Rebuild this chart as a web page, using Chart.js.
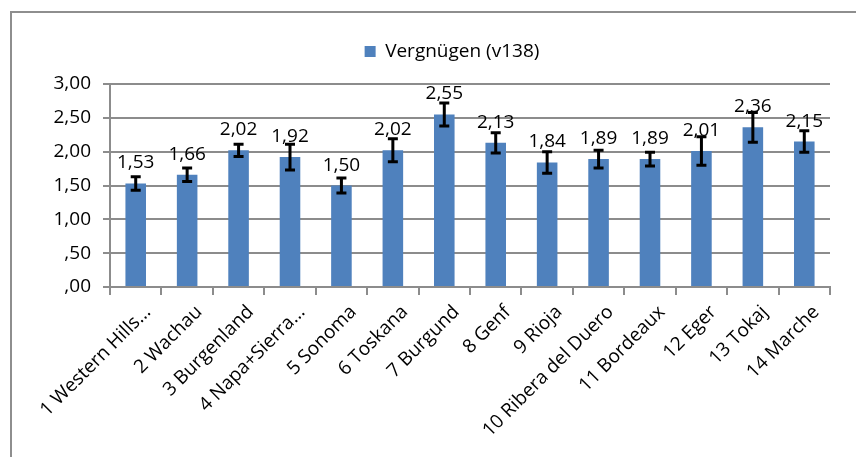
<!DOCTYPE html>
<html>
<head>
<meta charset="utf-8">
<script src="https://cdn.jsdelivr.net/npm/chart.js@4/dist/chart.umd.min.js"></script>
<style>
  html, body { margin: 0; padding: 0; background: #fff; overflow: hidden; }
  #wrap { position: relative; width: 856px; height: 457px; }
  #frame { position: absolute; left: 10px; top: 11px; width: 1000px; height: 1000px; border: 2px solid #8e8e8e; box-sizing: border-box; }
  canvas { position: absolute; left: 0; top: 0; }
</style>
</head>
<body>
<div id="wrap">
  <div id="frame"></div>
  <canvas id="c" width="856" height="457"></canvas>
</div>
<script>
const categories = ["1 Western Hills...", "2 Wachau", "3 Burgenland", "4 Napa+Sierra...", "5 Sonoma", "6 Toskana", "7 Burgund", "8 Genf", "9 Rioja", "10 Ribera del Duero", "11 Bordeaux", "12 Eger", "13 Tokaj", "14 Marche"];
const values = [1.53, 1.66, 2.02, 1.92, 1.50, 2.02, 2.55, 2.13, 1.84, 1.89, 1.89, 2.01, 2.36, 2.15];
const errors = [0.10, 0.10, 0.09, 0.19, 0.11, 0.17, 0.17, 0.15, 0.16, 0.13, 0.10, 0.21, 0.22, 0.16];
const yTickLabels = [",00", ",50", "1,00", "1,50", "2,00", "2,50", "3,00"];
const seriesName = "Vergnügen (v138)";

const FONT = "'Open Sans', sans-serif";
const GRID = "#8c8c8c";

const shiftLegend = {
  id: 'shiftLegend',
  afterLayout(chart) {
    const lg = chart.legend;
    if (lg) { lg.left += 17; lg.right += 17; lg.top -= 13; lg.bottom -= 13; }
  }
};

const errorBars = {
  id: 'errorBars',
  afterDatasetsDraw(chart) {
    const ctx = chart.ctx;
    const meta = chart.getDatasetMeta(0);
    const y = chart.scales.y;
    ctx.save();
    ctx.strokeStyle = '#000';
    ctx.lineWidth = 3;
    meta.data.forEach((bar, i) => {
      const x = bar.x;
      const top = y.getPixelForValue(values[i] + errors[i]);
      const bot = y.getPixelForValue(values[i] - errors[i]);
      ctx.beginPath();
      ctx.moveTo(x, top); ctx.lineTo(x, bot);
      ctx.moveTo(x - 5, top); ctx.lineTo(x + 5, top);
      ctx.moveTo(x - 5, bot); ctx.lineTo(x + 5, bot);
      ctx.stroke();
    });
    ctx.fillStyle = '#000';
    ctx.font = "19px " + FONT;
    ctx.textAlign = 'center';
    ctx.textBaseline = 'alphabetic';
    meta.data.forEach((bar, i) => {
      const yy = y.getPixelForValue(values[i]) - 15;
      ctx.fillText(values[i].toFixed(2).replace('.', ','), bar.x, yy);
    });
    ctx.restore();
  }
};

new Chart(document.getElementById('c'), {
  type: 'bar',
  data: {
    labels: categories,
    datasets: [{
      label: seriesName,
      data: values,
      backgroundColor: '#4f81bd',
      borderWidth: 0,
      categoryPercentage: 1,
      barPercentage: 0.4
    }]
  },
  options: {
    responsive: false,
    animation: false,
    devicePixelRatio: 1,
    layout: { padding: { left: 40, right: 26, top: 31, bottom: 0 } },
    plugins: {
      legend: {
        position: 'top',
        labels: {
          boxWidth: 11, boxHeight: 11,
          color: '#000',
          font: { family: FONT, size: 19 },
          padding: 24
        }
      },
      tooltip: { enabled: false }
    },
    scales: {
      x: {
        afterFit(s) { s.height = 170; },
        grid: { display: true, drawOnChartArea: false, drawTicks: true, tickLength: 8, color: GRID, lineWidth: 2, offset: true },
        border: { display: true, color: GRID, width: 2 },
        ticks: { color: '#000', font: { family: FONT, size: 19 }, minRotation: 45, maxRotation: 45, autoSkip: false, padding: 6, labelOffset: 12 }
      },
      y: {
        min: 0, max: 3,
        afterFit(s) { s.width = 70; },
        grid: { color: GRID, lineWidth: 2, tickLength: 7 },
        border: { display: true, color: GRID, width: 2 },
        ticks: {
          stepSize: 0.5,
          color: '#000',
          font: { family: FONT, size: 19 },
          padding: 12,
          callback: (v, i) => yTickLabels[i]
        }
      }
    }
  },
  plugins: [errorBars, shiftLegend]
});
</script>
</body>
</html>
